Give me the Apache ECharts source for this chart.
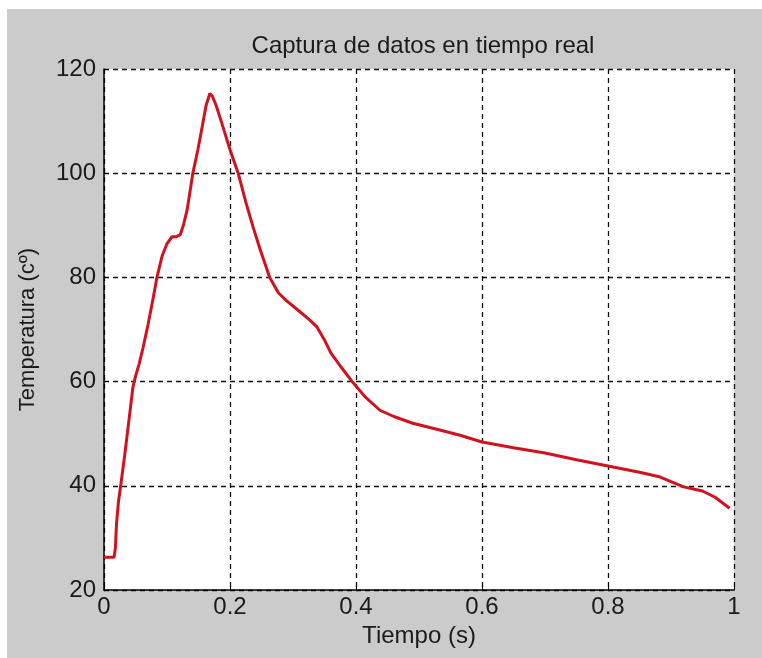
<!DOCTYPE html>
<html>
<head>
<meta charset="utf-8">
<script src="https://cdn.jsdelivr.net/npm/echarts@6/dist/echarts.min.js"></script>
<style>
html,body{margin:0;padding:0;background:#ffffff;width:762px;height:658px;overflow:hidden;}
#bg{position:absolute;left:7px;top:9px;width:755px;height:649px;background:#cbcbcb;}
#chart{position:absolute;left:0;top:0;width:762px;height:658px;}
</style>
</head>
<body>
<div id="bg"></div>
<div id="chart"></div>
<script>
const titleText = 'Captura de datos en tiempo real';
const xName = 'Tiempo (s)';
const yName = 'Temperatura (cº)';
const xTicks = [0, 0.2, 0.4, 0.6, 0.8, 1];
const yTicks = [20, 40, 60, 80, 100, 120];
const tiempo = [0, 0.016, 0.018, 0.020, 0.023, 0.027, 0.033, 0.041, 0.046, 0.050, 0.056, 0.062, 0.070, 0.078, 0.084, 0.092, 0.100, 0.108, 0.115, 0.121, 0.126, 0.132, 0.141, 0.149, 0.156, 0.162, 0.168, 0.172, 0.178, 0.186, 0.200, 0.213, 0.225, 0.237, 0.248, 0.263, 0.277, 0.290, 0.310, 0.325, 0.338, 0.350, 0.360, 0.375, 0.394, 0.415, 0.438, 0.460, 0.490, 0.530, 0.565, 0.600, 0.650, 0.700, 0.750, 0.800, 0.850, 0.880, 0.920, 0.950, 0.970, 0.993];
const temperatura = [26.3, 26.3, 28, 33, 37, 40.5, 46, 54, 59, 61, 63.5, 66.5, 71, 76, 80, 84, 86.5, 87.8, 87.8, 88.2, 90, 93, 100, 104.5, 109, 113, 115.3, 114.8, 113, 110, 104.5, 100, 94.5, 89.5, 85.3, 80, 77, 75.5, 73.5, 72, 70.5, 68, 65.5, 63, 60, 57, 54.5, 53.3, 52, 50.8, 49.7, 48.4, 47.3, 46.3, 45, 43.8, 42.6, 41.8, 39.8, 39, 37.8, 35.7];

const chart = echarts.init(document.getElementById('chart'));
const font = 'Liberation Sans, Arial, sans-serif';
chart.setOption({
  backgroundColor: 'transparent',
  animation: false,
  title: {
    text: titleText, left: 418, top: 29, textAlign: 'center',
    textStyle: {fontFamily: font, fontSize: 24, fontWeight: 'normal', color: '#1a1a1a'}
  },
  grid: {left: 104, top: 69, right: 28, bottom: 68, show: true, backgroundColor: '#ffffff', borderWidth: 0},
  xAxis: {
    type: 'value', min: xTicks[0], max: xTicks[xTicks.length-1], interval: 0.2,
    name: xName, nameLocation: 'middle', nameGap: 31,
    nameTextStyle: {fontFamily: font, fontSize: 24, color: '#1a1a1a'},
    axisLine: {show: true, onZero: false, lineStyle: {color: '#000', width: 1.5}},
    axisTick: {show: true, inside: true, length: 5, lineStyle: {color: '#000'}},
    axisLabel: {fontFamily: font, fontSize: 24, color: '#1a1a1a', margin: 5, formatter: v => String(+v.toFixed(1))},
    splitLine: {show: true, lineStyle: {color: '#111', type: [5, 4], width: 1.3}}
  },
  yAxis: {
    type: 'value', min: yTicks[0], max: yTicks[yTicks.length-1], interval: 20,
    name: yName, nameLocation: 'middle', nameGap: 65,
    nameTextStyle: {fontFamily: font, fontSize: 22, color: '#1a1a1a'},
    axisLine: {show: true, onZero: false, lineStyle: {color: '#000', width: 1.5}},
    axisTick: {show: true, inside: true, length: 5, lineStyle: {color: '#000'}},
    axisLabel: {fontFamily: font, fontSize: 24, color: '#1a1a1a', margin: 8},
    splitLine: {show: true, lineStyle: {color: '#111', type: [5, 4], width: 1.3}}
  },
  series: [{
    type: 'line', data: tiempo.map((t, i) => [t, temperatura[i]]),
    showSymbol: false, smooth: false,
    lineStyle: {color: '#d0121e', width: 3}
  }]
});
</script>
</body>
</html>
